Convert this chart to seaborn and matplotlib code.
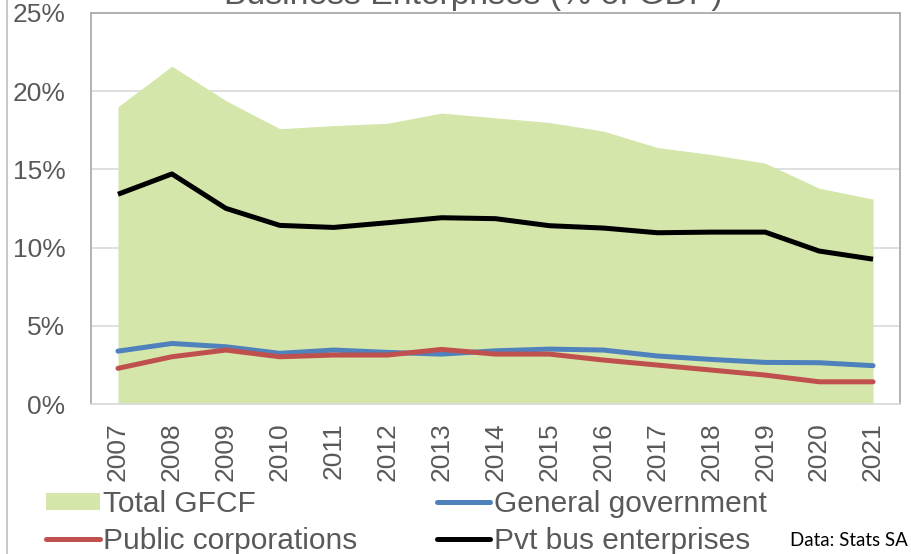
import matplotlib
matplotlib.use("Agg")
import matplotlib.pyplot as plt
import seaborn as sns
import numpy as np
import pandas as pd
from matplotlib.lines import Line2D
from matplotlib.patches import Patch

years = list(range(2007, 2022))
total_gfcf = [19.0, 21.6, 19.4, 17.6, 17.8, 17.95, 18.6, 18.3, 18.0, 17.45, 16.4, 15.95, 15.4, 13.8, 13.1]
general_government = [3.38, 3.87, 3.66, 3.24, 3.45, 3.30, 3.19, 3.40, 3.51, 3.45, 3.07, 2.85, 2.66, 2.64, 2.45]
public_corporations = [2.28, 3.02, 3.45, 3.02, 3.13, 3.13, 3.49, 3.19, 3.19, 2.81, 2.49, 2.17, 1.85, 1.42, 1.42]
pvt_bus_enterprises = [13.41, 14.71, 12.51, 11.42, 11.29, 11.59, 11.91, 11.85, 11.40, 11.25, 10.95, 10.99, 10.99, 9.78, 9.26]
y_ticks = [0, 5, 10, 15, 20, 25]
y_tick_labels = ["0%", "5%", "10%", "15%", "20%", "25%"]
title_text = "Business Enterprises (% of GDP)"
source_text = "Data: Stats SA"

df = pd.DataFrame({
    "year": years,
    "Total GFCF": total_gfcf,
    "General government": general_government,
    "Public corporations": public_corporations,
    "Pvt bus enterprises": pvt_bus_enterprises,
})

sns.set_style("white")
plt.rcParams["font.family"] = ["Liberation Sans", "DejaVu Sans"]

GREEN = "#D4E6AA"
BLUE = "#4F81BD"
RED = "#C0504D"
BLACK = "#000000"
TXT = "#595959"

fig = plt.figure(figsize=(9.12, 5.54), dpi=100)
ax = fig.add_axes([91/912, 1-404/554, (900-91)/912, (404-13)/554])

ax.fill_between(df["year"], 0, df["Total GFCF"], color=GREEN, linewidth=0, zorder=1)
lw = 3.6
sns.lineplot(data=df, x="year", y="General government", ax=ax, color=BLUE, linewidth=lw,
             solid_capstyle="round", zorder=3)
sns.lineplot(data=df, x="year", y="Public corporations", ax=ax, color=RED, linewidth=lw,
             solid_capstyle="round", zorder=4)
sns.lineplot(data=df, x="year", y="Pvt bus enterprises", ax=ax, color=BLACK, linewidth=lw,
             solid_capstyle="butt", zorder=5)

ax.set_xlim(2006.5, 2021.5)
ax.set_ylim(0, 25)
ax.set_xticks(years)
ax.set_xticklabels([str(y) for y in years], rotation=90, fontsize=19, color=TXT)
ax.set_yticks(y_ticks)
ax.set_yticklabels(y_tick_labels, fontsize=19, color=TXT)
ax.tick_params(axis="y", length=0, pad=18.5)
ax.tick_params(axis="x", length=0, pad=13)
ax.set_xlabel("")
ax.set_ylabel("")
ax.yaxis.grid(True, color="#D9D9D9", linewidth=1.2, zorder=0)
ax.set_axisbelow(True)
for s in ["left", "top", "right"]:
    ax.spines[s].set_color("#A6A6A6")
    ax.spines[s].set_linewidth(1.2)
ax.spines["bottom"].set_color("#D9D9D9")
ax.spines["bottom"].set_linewidth(1.2)

# outer chart border (left edge)
fig.add_artist(Line2D([7/912, 7/912], [0, 1], transform=fig.transFigure, color="#BFBFBF", linewidth=1.2))

fig.text(473/912, 1-4/554, title_text, ha="center", va="baseline", fontsize=24.3, color=TXT)

handles = [
    Patch(facecolor=GREEN, edgecolor="none"),
    Line2D([], [], color=RED, linewidth=lw, solid_capstyle="round"),
    Line2D([], [], color=BLUE, linewidth=lw, solid_capstyle="round"),
    Line2D([], [], color=BLACK, linewidth=lw),
]
labels = ["Total GFCF", "Public corporations", "General government", "Pvt bus enterprises"]
leg = fig.legend(handles, labels, loc="upper left", bbox_to_anchor=(46/912, 1-490/554),
                 ncol=2, frameon=False, fontsize=21.5, handlelength=1.8, handleheight=0.5,
                 handletextpad=0.12, columnspacing=2.65, labelspacing=0.3, borderpad=0,
                 borderaxespad=0)
for t in leg.get_texts():
    t.set_color(TXT)

fig.text(908/912, 1-541/554, source_text, ha="right", va="center", fontsize=13.5,
         color="#000000", family=["Lato", "DejaVu Sans"])

fig.savefig("out.png", dpi=100)
